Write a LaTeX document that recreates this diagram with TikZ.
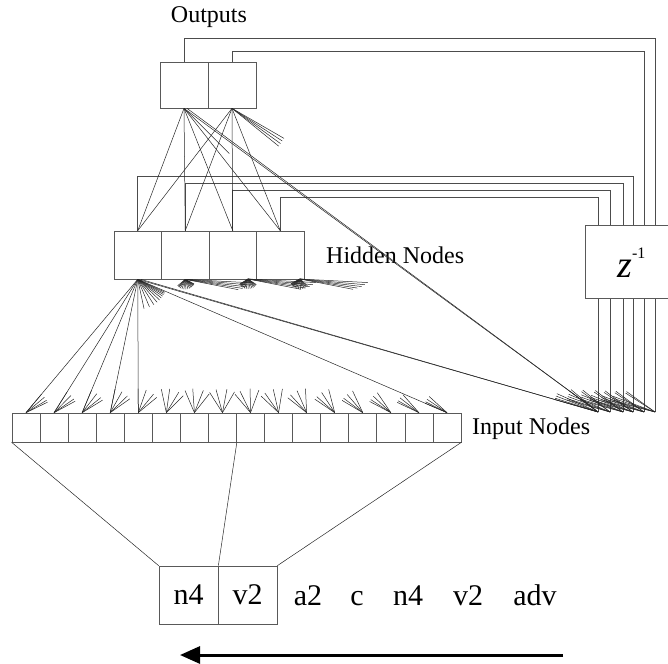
\documentclass[tikz,border=0pt]{standalone}
\usepackage{fontspec}
\setmainfont{Liberation Serif}
\usetikzlibrary{arrows.meta,calc}

\tikzset{
  cell/.style={draw=black!65,fill=white,line width=.7pt,inner sep=0pt},
  wire/.style={draw=black!85,line width=.5pt},
  fb/.style={draw=black!70,line width=.6pt},
  lbl/.style={font=\fontsize{24}{26}\selectfont,inner sep=0pt},
  word/.style={font=\fontsize{30}{32}\selectfont,inner sep=0pt,anchor=base},
}

\begin{document}
\begin{tikzpicture}[x=1pt,y=-1pt]
\useasboundingbox (0,0) rectangle (668,663);
\node[cell,minimum width=48pt,minimum height=46pt] (out1) at (184,85) {};
\node[cell,minimum width=48pt,minimum height=46pt] (out2) at (232,85) {};
\node[lbl,anchor=base] (outlbl) at (209,23) {Outputs};
\node[cell,minimum width=47.5pt,minimum height=48pt] (hid1) at (137.75,255) {};
\node[cell,minimum width=47.5pt,minimum height=48pt] (hid2) at (185.25,255) {};
\node[cell,minimum width=47.5pt,minimum height=48pt] (hid3) at (232.75,255) {};
\node[cell,minimum width=47.5pt,minimum height=48pt] (hid4) at (280.25,255) {};
\node[lbl,anchor=base west] (hidlbl) at (326,263) {Hidden Nodes};
\foreach \i in {1,...,16}
  \node[cell,minimum width=28.06pt,minimum height=29pt] (in\i) at ({12+28.0625*(\i-0.5)},427.5) {};
\node[lbl,anchor=base west] (inlbl) at (472,434) {Input Nodes};
\coordinate (hb1) at (hid1.south);
\coordinate (hb2) at (hid2.south);
\coordinate (hb3) at (248,279);
\coordinate (hb4) at (300,279);
\coordinate (ctx1) at (598,412);
\coordinate (ctx2) at (610,412);
\coordinate (ctx3) at (623,412);
\coordinate (ctx4) at (633,412);
\coordinate (ctx5) at (644,412);
\coordinate (ctx6) at (655,412);
\draw[fb] (out1.north) -- ++(0,-23) -| (ctx6);
\draw[fb] (out2.north) -- ++(0,-10) -| (ctx5);
\draw[fb] (hid1.north) -- ++(0,-54) -| (ctx4);
\draw[fb] (hid2.north) -- ++(0,-47) -| (ctx3);
\draw[fb] (hid3.north) -- ++(0,-40) -| (ctx2);
\draw[fb] (hid4.north) -- ++(0,-33) -| (ctx1);
\path[cell] (668,225) -- (585,225) -- (585,298) -- (668,298);
\node[anchor=base west,inner sep=0pt] (zinv) at (617,277) {{\fontsize{38}{40}\selectfont\itshape z}\raisebox{19pt}{\fontsize{16}{18}\selectfont -1}};
\foreach \o in {1,2}
  \foreach \h in {1,...,4}
    \draw[wire] (out\o.south) -- (hid\h.north);
\draw[wire] (out1.south) -- (ctx1);
\draw[wire] ($(out1.south)+(3,0)$) -- (ctx1);
\draw[wire] (out1.south) -- ++(45:64);
\foreach \a in {30,33,36,39}
  \draw[wire] (out2.south) -- ++(\a:60);
\foreach \i in {1,...,5,16}
  \draw[wire] (hb1) -- (in\i.north);
\foreach \i in {6,...,15}
  \draw[wire] (hb1) -- ($(hb1)!30pt!(in\i.north)$);
\draw[wire] (hb1) -- (ctx1);
\draw[wire] ($(hb1)+(3,0)$) -- (ctx1);
\foreach \h in {2,3,4}{
  \foreach \a/\l in {3/68,5/65,7/62,9/58,11/54}
    \draw[wire] (hb\h) -- ++(\a:\l);
  \foreach \i in {1,...,16}
    \draw[wire] (hb\h) -- ($(hb\h)!10pt!(in\i.north)$);
}
\foreach \i in {1,...,16}
  \foreach \h in {1,...,4}
    \draw[wire] (in\i.north) -- ($(in\i.north)!24pt!(hb\h)$);
\foreach \k in {1,...,6}{
  \foreach \o in {1,2}
    \draw[wire] (ctx\k) -- ($(ctx\k)!35pt!(out\o.south)$);
  \foreach \h in {1,...,4}
    \draw[wire] (ctx\k) -- ($(ctx\k)!45pt!(hb\h)$);
}
\node[cell,minimum width=59pt,minimum height=58pt,font=\fontsize{30}{32}\selectfont] (w1) at (188.5,595) {n4};
\node[cell,minimum width=59pt,minimum height=58pt,font=\fontsize{30}{32}\selectfont] (w2) at (247.5,595) {v2};
\node[word] (w3) at (308,605) {a2};
\node[word] (w4) at (357,605) {c};
\node[word] (w5) at (408,605) {n4};
\node[word] (w6) at (468,605) {v2};
\node[word] (w7) at (535,605) {adv};
\draw[wire] (in1.south west) -- (w1.north west);
\draw[wire] (in8.south east) -- (w1.north east);
\draw[wire] (in16.south east) -- (w2.north east);
\coordinate (arrR) at (563,655);
\coordinate (arrL) at (180,655);
\draw[line width=3pt,-{Triangle[length=20pt,width=17pt]}] (arrR) -- (arrL);
\end{tikzpicture}
\end{document}
